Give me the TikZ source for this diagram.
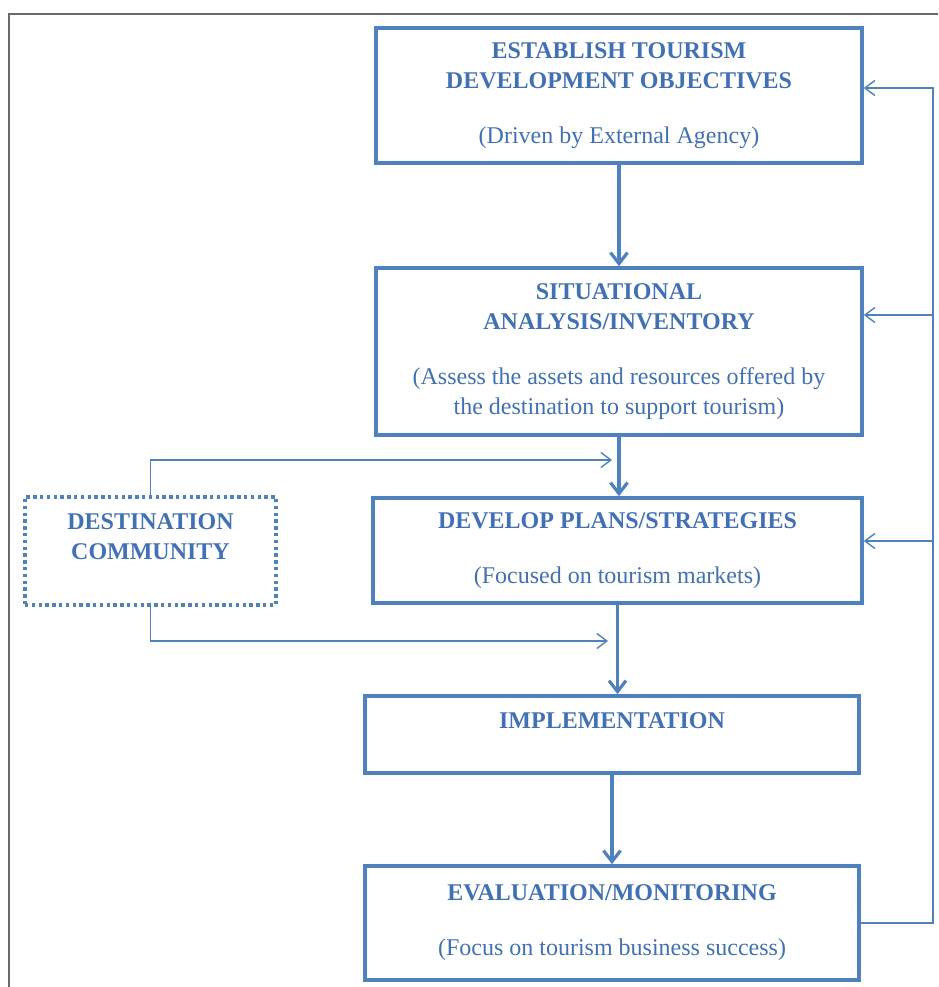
\documentclass[tikz,border=0pt]{standalone}
\usepackage{fontspec}
\setmainfont{Liberation Serif}
\usetikzlibrary{arrows.meta}
\definecolor{LineBlue}{RGB}{79,129,189}
\definecolor{TextBlue}{RGB}{66,112,180}
\definecolor{FrameGray}{RGB}{105,105,105}
\tikzset{
  tdbox/.style={draw=LineBlue, line width=3.6pt, text=TextBlue, align=center, inner sep=0pt, font=\fontsize{24}{30}\selectfont},
  tdcomm/.style={draw=LineBlue, line width=3.4pt, dash pattern=on 3.4pt off 3.4pt, text=TextBlue, align=center, inner sep=0pt, font=\fontsize{24}{30}\selectfont\bfseries},
  tdflow/.style={-{Straight Barb[length=11pt,width=17pt]}, line width=3.2pt, draw=LineBlue},
  tdthin/.style={-{Straight Barb[length=10pt,width=15pt]}, line width=1.4pt, draw=LineBlue},
  tdframe/.style={line width=1.3pt, draw=FrameGray}
}
\newcommand{\tdhead}[1]{{\bfseries #1}}

\begin{document}
\begin{tikzpicture}[x=1pt,y=-1pt]
  \useasboundingbox (0,0) rectangle (938,987);
  \draw[tdframe] (9,987) -- (9,14) -- (938,14);
  % main column
  \node[tdbox, minimum width=486, minimum height=135] (objectives) at (619,95.5)
    {\tdhead{ESTABLISH TOURISM}\\ \tdhead{DEVELOPMENT OBJECTIVES}\\[25pt](Driven by External Agency)};
  \node[tdbox, minimum width=486, minimum height=167] (analysis) at (619,351.5)
    {\tdhead{SITUATIONAL}\\ \tdhead{ANALYSIS/INVENTORY}\\[25pt](Assess the assets and resources offered by\\ the destination to support tourism)};
  \node[tdbox, minimum width=489, minimum height=105] (plans) at (617.5,550.5)
    {\tdhead{DEVELOP PLANS/STRATEGIES}\\[25pt](Focused on tourism markets)};
  \node[tdbox, minimum width=494, text height=32, text depth=45] (implementation) at (612,734.5)
    {\tdhead{IMPLEMENTATION}};
  \node[tdbox, minimum width=494, minimum height=114] (evaluation) at (612,923)
    {\tdhead{EVALUATION/MONITORING}\\[25pt](Focus on tourism business success)};
  \node[tdcomm, minimum width=251, text height=62, text depth=46] (community) at (150.5,551)
    {DESTINATION\\ COMMUNITY};
  % flow
  \draw[tdflow] (objectives.south) -- (objectives.south |- analysis.north);
  \draw[tdflow] (analysis.south) -- (analysis.south |- plans.north);
  \draw[tdflow] (plans.south) -- (plans.south |- implementation.north);
  \draw[tdflow] (implementation.south) -- (implementation.south |- evaluation.north);
  % community input
  \coordinate (commtop) at (612,460);
  \coordinate (commlow) at (608,641);
  \draw[tdthin] (community.north) |- (commtop);
  \draw[tdthin] (community.south) |- (commlow);
  % feedback
  \coordinate (fbtop) at (933,88);
  \coordinate (fbmid) at (933,315);
  \coordinate (fblow) at (933,541);
  \draw[tdthin] (evaluation.east) -| (fbtop) -- (fbtop -| objectives.east);
  \draw[tdthin] (fbmid) -- (fbmid -| analysis.east);
  \draw[tdthin] (fblow) -- (fblow -| plans.east);
\end{tikzpicture}
\end{document}
